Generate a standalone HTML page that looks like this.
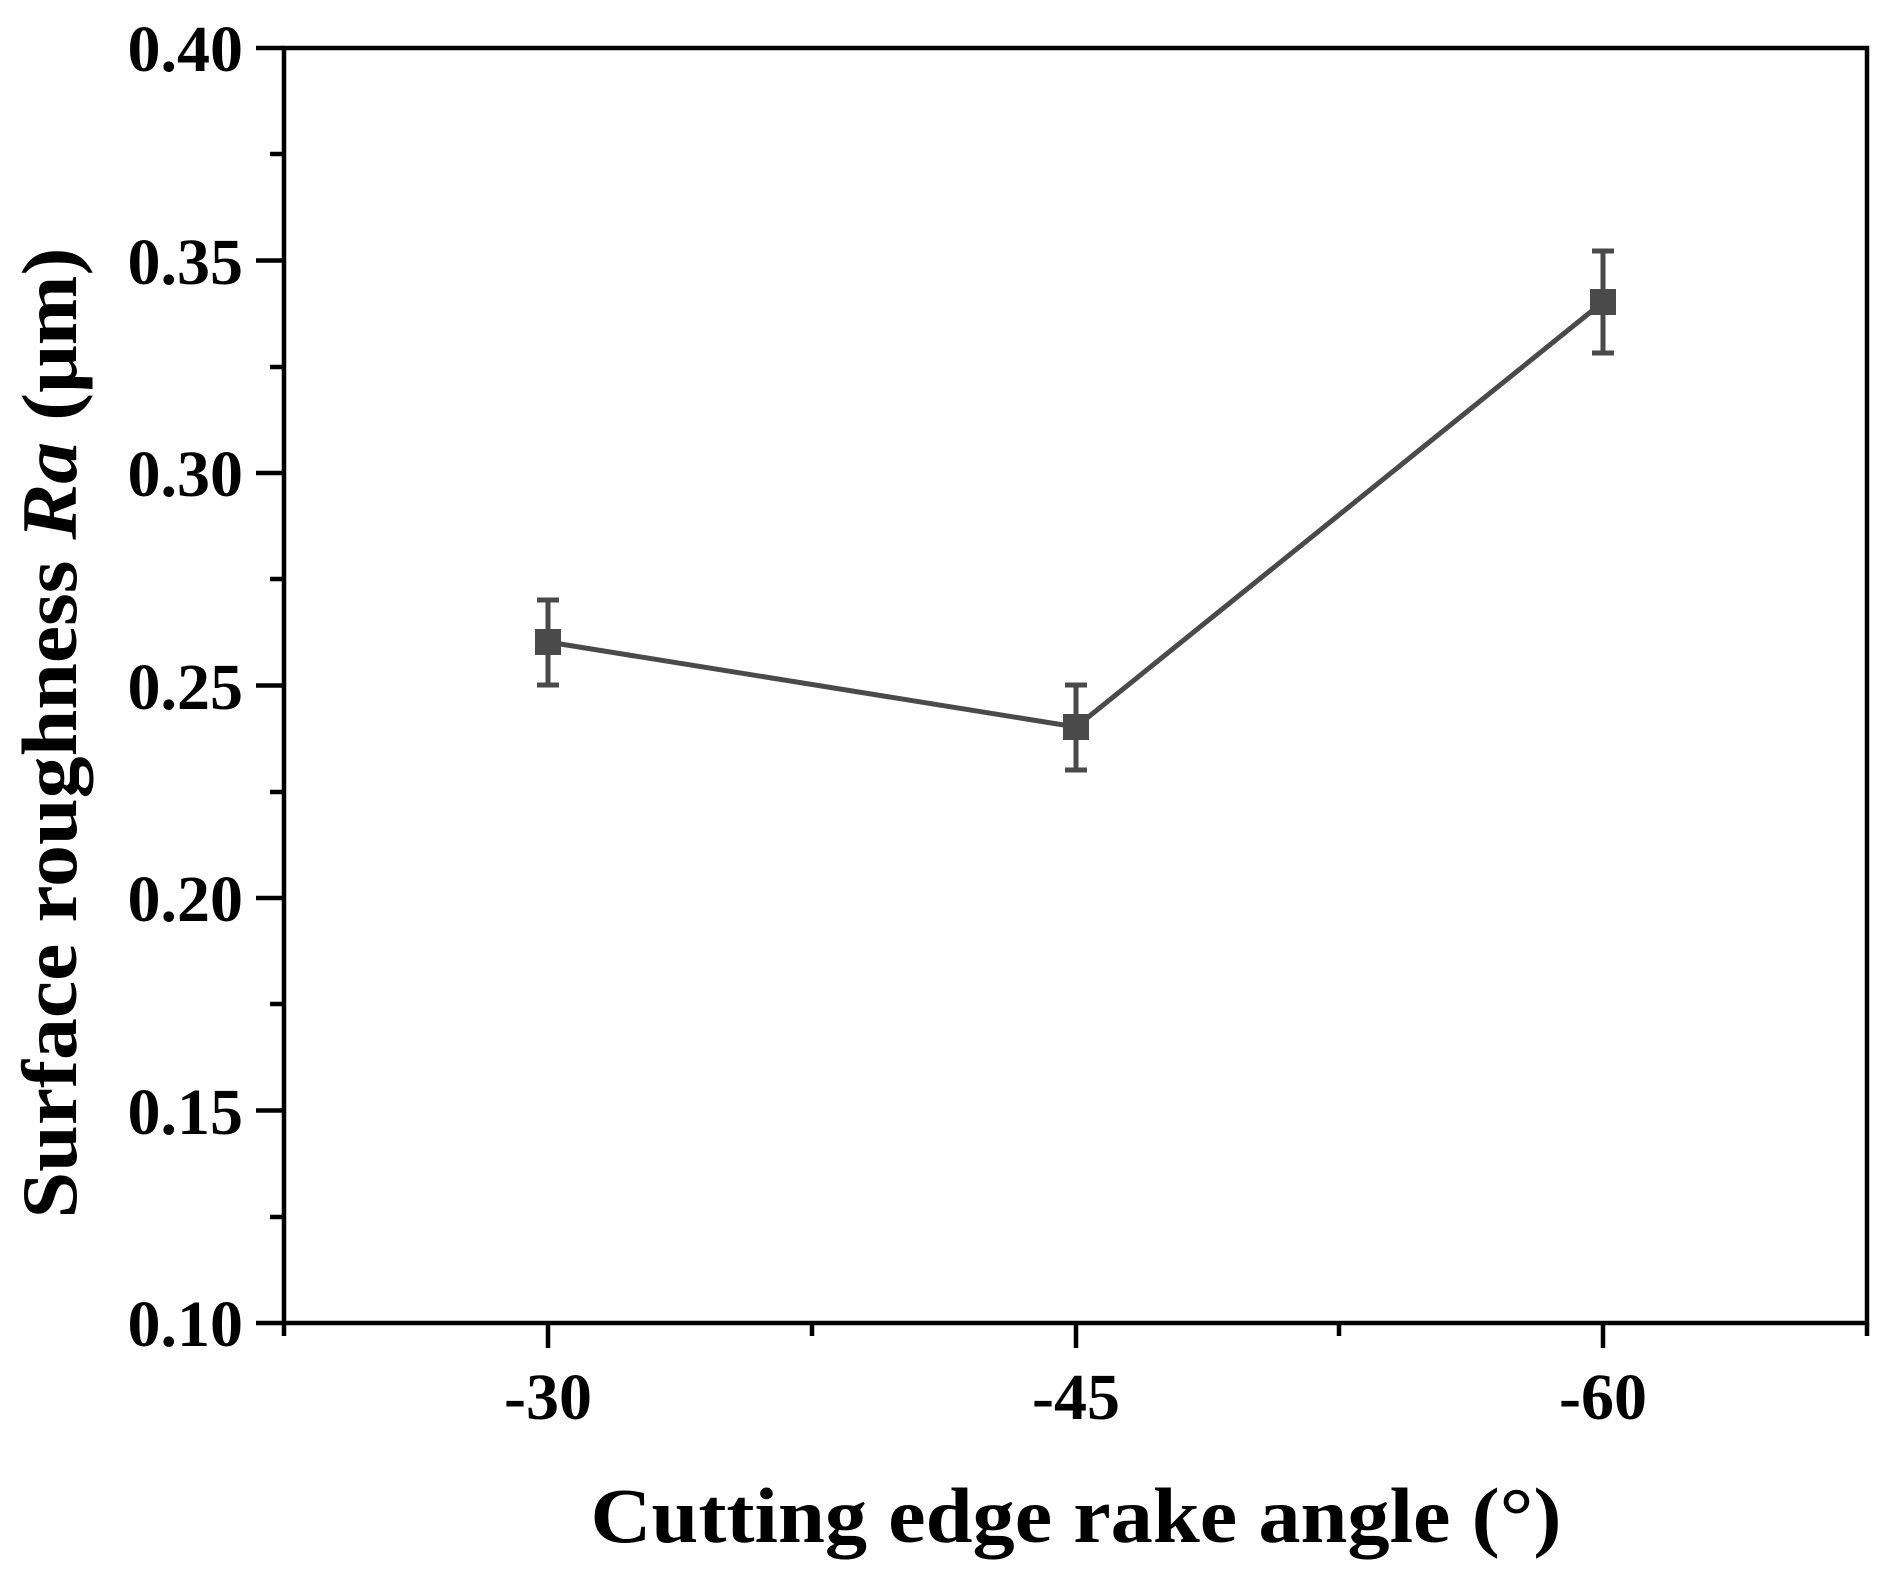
<!DOCTYPE html>
<html><head><meta charset="utf-8"><style>html,body{margin:0;padding:0;background:#fff}svg{display:block}</style></head>
<body>
<svg width="1892" height="1587" viewBox="0 0 1892 1587" xmlns="http://www.w3.org/2000/svg" font-family="Liberation Serif, serif" font-weight="bold">
<g stroke="#000" stroke-width="4.5" fill="none">
<rect x="284" y="48" width="1583" height="1275"/>
<path d="M284 48H256M284 260.5H256M284 473H256M284 685.5H256M284 898H256M284 1110.5H256M284 1323H256"/>
<path d="M284 154H270M284 367H270M284 579H270M284 792H270M284 1004H270M284 1217H270"/>
<path d="M548 1323V1348M1076 1323V1348M1603 1323V1348M284 1323V1336M812 1323V1336M1339 1323V1336M1867 1323V1336"/>
</g>
<g font-size="66" text-anchor="end" fill="#000">
<text x="243" y="71">0.40</text>
<text x="243" y="284">0.35</text>
<text x="243" y="496">0.30</text>
<text x="243" y="709">0.25</text>
<text x="243" y="921">0.20</text>
<text x="243" y="1134">0.15</text>
<text x="243" y="1346">0.10</text>
</g>
<g font-size="66" text-anchor="middle" fill="#000">
<text x="548" y="1419">-30</text>
<text x="1076" y="1419">-45</text>
<text x="1603" y="1419">-60</text>
</g>
<text x="1076" y="1542" font-size="78" text-anchor="middle" textLength="971" lengthAdjust="spacingAndGlyphs">Cutting edge rake angle (°)</text>
<text transform="translate(76,733) rotate(-90)" font-size="78" text-anchor="middle" textLength="971" lengthAdjust="spacingAndGlyphs">Surface roughness <tspan font-style="italic">Ra</tspan> (μm)</text>
<g stroke="#4a4a4a" stroke-width="5" fill="none">
<polyline points="548,642 1076,727 1603,302"/>
<path d="M548 600V685M537 600H559M537 685H559"/>
<path d="M1076 685V770M1065 685H1087M1065 770H1087"/>
<path d="M1603 251V353M1592 251H1614M1592 353H1614"/>
</g>
<g fill="#4a4a4a">
<rect x="535" y="629" width="26" height="26"/>
<rect x="1063" y="714" width="26" height="26"/>
<rect x="1590" y="289" width="26" height="26"/>
</g>
</svg>
</body></html>
